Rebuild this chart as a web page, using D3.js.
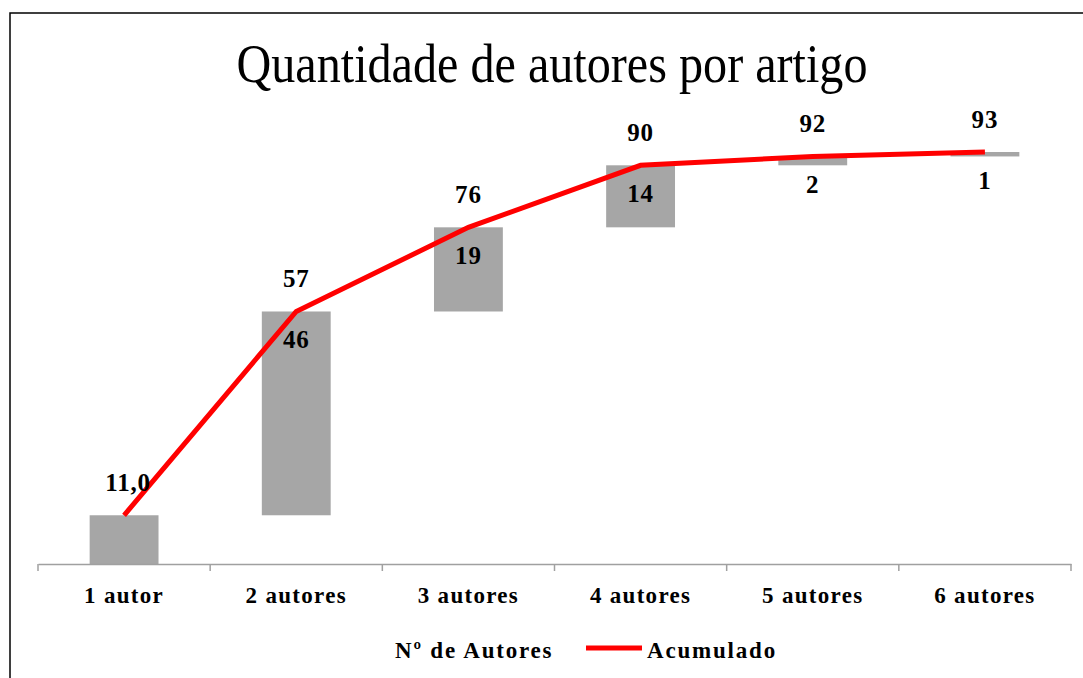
<!DOCTYPE html>
<html>
<head>
<meta charset="utf-8">
<script src="https://cdn.jsdelivr.net/npm/d3@7"></script>
<style>
  body { margin: 0; background: #fff; }
  svg text { font-family: "Liberation Serif", "Times New Roman", serif; }
</style>
</head>
<body>
<div id="chart"></div>
<script>
// dados
var categorias = ["1 autor", "2 autores", "3 autores", "4 autores", "5 autores", "6 autores"];
var autores = [11, 46, 19, 14, 2, 1];          // Nº de Autores (incremento)
var acumulado = [11, 57, 76, 90, 92, 93];      // Acumulado
var rotulosAcumulado = ["11,0", "57", "76", "90", "92", "93"];
var rotulosAutores = ["", "46", "19", "14", "2", "1"];

var width = 1083, height = 678;
var svg = d3.select("#chart").append("svg")
  .attr("width", width)
  .attr("height", height);

// moldura
svg.append("rect")
  .attr("x", 10).attr("y", 13)
  .attr("width", width + 20).attr("height", height + 20)
  .attr("fill", "white")
  .attr("stroke", "black")
  .attr("stroke-width", 1.5);

// titulo
svg.append("text")
  .attr("x", 552).attr("y", 82)
  .attr("text-anchor", "middle")
  .attr("font-size", 54)
  .attr("textLength", 631)
  .attr("lengthAdjust", "spacingAndGlyphs")
  .text("Quantidade de autores por artigo");

var x = d3.scaleBand()
  .domain(categorias)
  .range([38, 1071])
  .paddingInner(0.6)
  .paddingOuter(0.3);

var y = d3.scaleLinear()
  .domain([0, 100])
  .range([564, 121]);

var barras = categorias.map(function(c, i){
  return { cat: c, base: acumulado[i] - autores[i], topo: acumulado[i] };
});

// barras (cascata)
svg.selectAll(".barra")
  .data(barras)
  .enter()
  .append("rect")
  .attr("class", "barra")
  .attr("x", function(d){ return x(d.cat); })
  .attr("y", function(d){ return y(d.topo); })
  .attr("width", x.bandwidth())
  .attr("height", function(d){ return y(d.base) - y(d.topo); })
  .attr("fill", "#a6a6a6");

// eixo x
var eixo = svg.append("g")
  .attr("transform", "translate(0," + y(0) + ")")
  .call(d3.axisBottom(x).tickSize(0).tickPadding(0));
eixo.select(".domain").attr("stroke", "#a0a0a0").attr("stroke-width", 1.5);
eixo.selectAll(".tick text")
  .attr("y", 39)
  .attr("dy", 0)
  .attr("font-size", 23)
  .attr("font-weight", "bold")
  .attr("fill", "black")
  .attr("letter-spacing", 1.3)
  .style("font-family", "Liberation Serif, serif");

// marcas entre as categorias
var limites = d3.range(categorias.length + 1).map(function(i){ return 38 + i * x.step(); });
eixo.selectAll(".limite")
  .data(limites)
  .enter()
  .append("line")
  .attr("class", "limite")
  .attr("x1", function(d){ return d; })
  .attr("x2", function(d){ return d; })
  .attr("y1", 0).attr("y2", 7)
  .attr("stroke", "#a0a0a0")
  .attr("stroke-width", 1.5);

// linha acumulado
var linha = d3.line()
  .x(function(d, i){ return x(categorias[i]) + x.bandwidth() / 2; })
  .y(function(d){ return y(d); });

svg.append("path")
  .attr("d", linha(acumulado))
  .attr("stroke", "#ff0000")
  .attr("stroke-width", 5)
  .attr("fill", "none");

// rotulos acumulado
svg.selectAll(".rotAc")
  .data(acumulado)
  .enter()
  .append("text")
  .attr("class", "rotAc")
  .attr("x", function(d, i){ return x(categorias[i]) + x.bandwidth() / 2 + (i == 0 ? 4 : 0); })
  .attr("y", function(d){ return y(d) - 24; })
  .attr("text-anchor", "middle")
  .attr("font-size", 25)
  .attr("font-weight", "bold")
  .attr("letter-spacing", 0.8)
  .text(function(d, i){ return rotulosAcumulado[i]; });

// rotulos incremento
svg.selectAll(".rotAu")
  .data(autores)
  .enter()
  .append("text")
  .attr("class", "rotAu")
  .attr("x", function(d, i){ return x(categorias[i]) + x.bandwidth() / 2; })
  .attr("y", function(d, i){ return y(acumulado[i]) + 37; })
  .attr("text-anchor", "middle")
  .attr("font-size", 25)
  .attr("font-weight", "bold")
  .attr("letter-spacing", 0.8)
  .text(function(d, i){ return rotulosAutores[i]; });

// legenda
var leg = svg.append("g").attr("font-size", 23).attr("font-weight", "bold").attr("letter-spacing", 1.8);
leg.append("text").attr("x", 395).attr("y", 658).text("Nº de Autores");
leg.append("line")
  .attr("x1", 586).attr("x2", 642)
  .attr("y1", 648).attr("y2", 648)
  .attr("stroke", "#ff0000").attr("stroke-width", 5);
leg.append("text").attr("x", 647).attr("y", 658).text("Acumulado");
</script>
</body>
</html>
